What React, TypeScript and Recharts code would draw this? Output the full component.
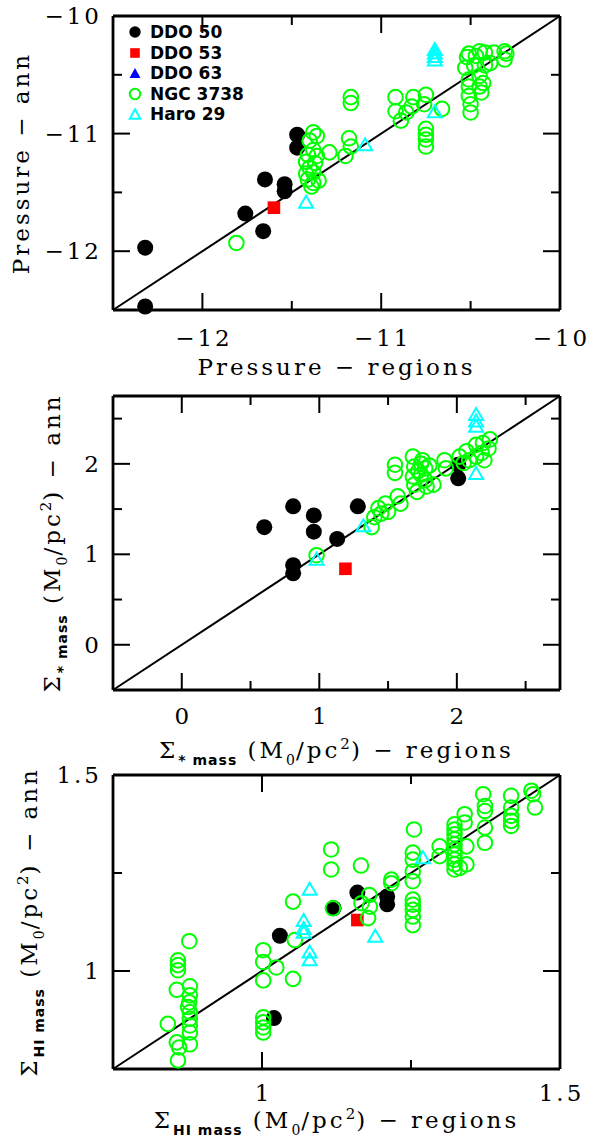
import React from "react";
import { ComposedChart, Scatter, XAxis, YAxis, Legend } from "recharts";

type Pt = [number, number];

// ---- log pressure, regions vs annuli ----
const presDdo50: Pt[] = [
  [-12.32, -11.97], [-12.32, -12.47], [-11.76, -11.68], [-11.65, -11.39],
  [-11.66, -11.83], [-11.54, -11.43], [-11.54, -11.49], [-11.47, -11.01], [-11.47, -11.12],
];
const presDdo53: Pt[] = [[-11.6, -11.63]];
const presDdo63: Pt[] = [];
const presNgc3738: Pt[] = [
  [-11.81, -11.93],
  [-11.38, -10.99], [-11.4, -11.06], [-11.38, -11.14], [-11.41, -11.18], [-11.36, -11.19],
  [-11.42, -11.24], [-11.37, -11.25], [-11.4, -11.29], [-11.38, -11.33], [-11.41, -11.39],
  [-11.38, -11.42], [-11.39, -11.45], [-11.35, -11.4], [-11.42, -11.34], [-11.36, -11.02],
  [-11.29, -11.16], [-11.18, -11.04], [-11.17, -11.11], [-11.2, -11.19], [-11.17, -10.69], [-11.17, -10.74],
  [-10.92, -10.69], [-10.92, -10.81], [-10.89, -10.89], [-10.82, -10.69], [-10.83, -10.77],
  [-10.75, -10.67], [-10.76, -10.75], [-10.66, -10.79], [-10.86, -10.82], [-10.75, -10.96],
  [-10.75, -11.01], [-10.75, -11.05], [-10.75, -11.11],
  [-10.52, -10.35], [-10.53, -10.44], [-10.51, -10.32], [-10.47, -10.34], [-10.45, -10.3],
  [-10.42, -10.31], [-10.51, -10.54], [-10.51, -10.6], [-10.45, -10.51], [-10.45, -10.6],
  [-10.44, -10.65], [-10.51, -10.68], [-10.5, -10.75], [-10.5, -10.82], [-10.39, -10.4],
  [-10.37, -10.31], [-10.31, -10.3], [-10.31, -10.37], [-10.3, -10.32], [-10.42, -10.42],
  [-10.48, -10.42], [-10.43, -10.57],
];
const presHaro29: Pt[] = [
  [-11.42, -11.58], [-11.09, -11.09], [-10.7, -10.28], [-10.7, -10.31], [-10.7, -10.34],
  [-10.7, -10.37], [-10.7, -10.81],
];

// ---- stellar mass surface density ----
const starDdo50: Pt[] = [
  [0.6, 1.3], [0.81, 1.53], [0.96, 1.43], [0.96, 1.25], [0.81, 0.88], [0.81, 0.79],
  [1.13, 1.17], [1.28, 1.53], [2.01, 1.84], [2.01, 1.99],
];
const starDdo53: Pt[] = [[1.19, 0.84]];
const starDdo63: Pt[] = [];
const starNgc3738: Pt[] = [
  [0.98, 0.99], [1.38, 1.3], [1.4, 1.41], [1.43, 1.51], [1.48, 1.56], [1.5, 1.47],
  [1.57, 1.64], [1.59, 1.56], [1.55, 1.99], [1.55, 1.9], [1.68, 2.08], [1.69, 1.97],
  [1.68, 1.86], [1.69, 1.77], [1.71, 1.69], [1.75, 2.04], [1.77, 1.95], [1.74, 1.88],
  [1.77, 1.82], [1.78, 1.75], [1.83, 1.77], [1.91, 2.04], [1.92, 1.95], [2.02, 2.08],
  [2.07, 2.14], [2.09, 2.04], [2.14, 2.21], [2.19, 2.23], [2.23, 2.17], [2.18, 2.12],
  [2.14, 2.08], [2.24, 2.27], [2.2, 2.04], [2.05, 2.01], [1.74, 2.0], [1.72, 1.92],
  [1.8, 1.98], [1.45, 1.45],
];
const starHaro29: Pt[] = [
  [0.98, 0.95], [1.32, 1.32], [2.14, 2.55], [2.14, 2.48], [2.14, 2.42], [2.14, 1.9],
];

// ---- HI mass surface density ----
const hiDdo50: Pt[] = [
  [1.03, 1.09], [1.02, 0.88], [1.16, 1.2], [1.12, 1.16], [1.21, 1.19], [1.21, 1.17],
];
const hiDdo53: Pt[] = [[1.16, 1.13]];
const hiDdo63: Pt[] = [];
const hiNgc3738: Pt[] = [
  [0.878, 1.076], [0.859, 1.027], [0.859, 1.015], [0.859, 1.002], [0.857, 0.952],
  [0.879, 0.961], [0.879, 0.938], [0.878, 0.92], [0.876, 0.908], [0.879, 0.895],
  [0.879, 0.878], [0.879, 0.861], [0.879, 0.843], [0.842, 0.865], [0.879, 0.813],
  [0.857, 0.818], [0.861, 0.805], [0.859, 0.772],
  [1.002, 1.053], [1.002, 1.023], [1.002, 0.976], [1.024, 1.009], [1.052, 0.98],
  [1.055, 1.079], [1.052, 1.177], [1.002, 0.882], [1.002, 0.869], [1.002, 0.856], [1.002, 0.843],
  [1.116, 1.31], [1.116, 1.259], [1.166, 1.269], [1.119, 1.16], [1.18, 1.194], [1.167, 1.173],
  [1.181, 1.164], [1.178, 1.135], [1.217, 1.233], [1.217, 1.224],
  [1.253, 1.302], [1.253, 1.284], [1.253, 1.254], [1.253, 1.229], [1.253, 1.182],
  [1.253, 1.169], [1.253, 1.156], [1.253, 1.139], [1.253, 1.117], [1.255, 1.361],
  [1.298, 1.318], [1.298, 1.293],
  [1.323, 1.374], [1.323, 1.361], [1.323, 1.349], [1.323, 1.336], [1.323, 1.323],
  [1.323, 1.31], [1.323, 1.297], [1.323, 1.284], [1.323, 1.272], [1.323, 1.259],
  [1.34, 1.4], [1.34, 1.379], [1.343, 1.318], [1.343, 1.272], [1.332, 1.263],
  [1.371, 1.451], [1.374, 1.421], [1.374, 1.408], [1.374, 1.366], [1.374, 1.327],
  [1.418, 1.447], [1.418, 1.417], [1.418, 1.396], [1.418, 1.383], [1.418, 1.37],
  [1.452, 1.46], [1.455, 1.451], [1.458, 1.417],
];
const hiHaro29: Pt[] = [
  [1.08, 1.21], [1.07, 1.13], [1.07, 1.11], [1.07, 1.1], [1.08, 1.05], [1.08, 1.03],
  [1.19, 1.09], [1.27, 1.29],
];

const galaxies = ["DDO 50", "DDO 53", "DDO 63", "NGC 3738", "Haro 29"];

const presDomain = [-12.5, -10];
const presTicks = [-12.5, -12, -11.5, -11, -10.5, -10];
const starDomain = [-0.5, 2.75];
const starTicks = [-0.5, 0, 0.5, 1, 1.5, 2, 2.5];
const hiDomain = [0.75, 1.5];
const hiTicks = [0.75, 1, 1.25, 1.5];

const SERIF = '"DejaVu Serif", serif';
const SANS = '"DejaVu Sans", sans-serif';

// ---- markers ----
const triPath = (cx: number, cy: number, w: number, h: number) =>
  `M${cx},${cy - h / 2}L${cx + w / 2},${cy + h / 2}L${cx - w / 2},${cy + h / 2}Z`;

const markers = [
  (p: any) => <circle cx={p.cx} cy={p.cy} r={8} fill="#000" />,
  (p: any) => <rect x={p.cx - 6.3} y={p.cy - 6.3} width={12.6} height={12.6} fill="#ff0000" />,
  (p: any) => <path d={triPath(p.cx, p.cy, 15, 13)} fill="#0000ff" />,
  (p: any) => <circle cx={p.cx} cy={p.cy} r={7.3} fill="none" stroke="#00ff00" strokeWidth={2} />,
  (p: any) => <path d={triPath(p.cx, p.cy, 14, 12)} fill="none" stroke="#00ffff" strokeWidth={2} />,
];

const legendIcons = [
  <circle cx={9} cy={9} r={5.7} fill="#000" />,
  <rect x={4.2} y={4.2} width={9.6} height={9.6} fill="#ff0000" />,
  <path d={triPath(9, 9, 11, 10)} fill="#0000ff" />,
  <circle cx={9} cy={9} r={5.2} fill="none" stroke="#00ff00" strokeWidth={2} />,
  <path d={triPath(9, 9, 10.5, 9.5)} fill="none" stroke="#00ffff" strokeWidth={2} />,
];

function LegendBox() {
  return (
    <div style={{ fontFamily: SANS, fontWeight: "bold", fontSize: 17, color: "#000" }}>
      {galaxies.map((g, i) => (
        <div key={g} style={{ display: "flex", alignItems: "center", height: 20.5, whiteSpace: "nowrap" }}>
          <svg width={18} height={18}>{legendIcons[i]}</svg>
          <span style={{ marginLeft: 6 }}>{g}</span>
        </div>
      ))}
    </div>
  );
}

// ---- axis decorations: inward ticks, labels on major ticks only ----
const fmt = (v: number) => String(v).replace("-", "\u2212");

function Tick(props: any) {
  const { x, y, payload, side, major, gap } = props;
  const v = payload.value;
  const isMajor = Math.abs(v / major - Math.round(v / major)) < 1e-6;
  const len = isMajor ? 17 : 9;
  const line = { stroke: "#000", strokeWidth: 2 };
  const txt = { fontFamily: SERIF, fontSize: 23, letterSpacing: 3, fill: "#000" };
  if (side === "bottom")
    return (
      <g>
        <line x1={x} y1={y} x2={x} y2={y - len} {...line} />
        {isMajor && (
          <text x={x + 1.5} y={y + gap} textAnchor="middle" style={txt}>{fmt(v)}</text>
        )}
      </g>
    );
  if (side === "top") return <line x1={x} y1={y} x2={x} y2={y + len} {...line} />;
  if (side === "left")
    return (
      <g>
        <line x1={x} y1={y} x2={x + len} y2={y} {...line} />
        {isMajor && (
          <text x={x - 11} y={y + 8} textAnchor="end" style={txt}>{fmt(v)}</text>
        )}
      </g>
    );
  return <line x1={x} y1={y} x2={x - len} y2={y} {...line} />;
}

type Part = { t: string; k?: "sub" | "sup" | "subSerif" };

function AxisTitle({ tx, ty, parts, vertical }: { tx: number; ty: number; parts: Part[]; vertical?: boolean }) {
  let shift = 0;
  const spans = parts.map((p, i) => {
    const target = p.k === "sub" || p.k === "subSerif" ? 7 : p.k === "sup" ? -9 : 0;
    const dy = target - shift;
    shift = target;
    const style =
      p.k === "sub"
        ? { fontFamily: SANS, fontWeight: "bold" as const, fontSize: 14, letterSpacing: 1 }
        : p.k === "subSerif"
        ? { fontSize: 14, letterSpacing: 1 }
        : p.k === "sup"
        ? { fontSize: 15, letterSpacing: 1 }
        : {};
    return (
      <tspan key={i} dy={dy} style={style}>
        {p.t}
      </tspan>
    );
  });
  return (
    <text
      x={tx}
      y={ty}
      textAnchor="middle"
      transform={vertical ? `rotate(-90 ${tx} ${ty})` : undefined}
      style={{ fontFamily: SERIF, fontSize: 23, letterSpacing: 3, fill: "#000", whiteSpace: "pre" }}
    >
      {spans}
    </text>
  );
}

const unitParts = (sym: string, tail: string): Part[] => [
  { t: "\u03a3" },
  { t: sym, k: "sub" },
  { t: " (M" },
  { t: "0", k: "subSerif" },
  { t: "/pc" },
  { t: "2", k: "sup" },
  { t: ") \u2212 " + tail },
];

const rows = (pts: Pt[]) => pts.map(([x, y]) => ({ x, y }));

interface PanelProps {
  top: number;
  height: number;
  mt: number;
  domain: number[];
  ticks: number[];
  major: number;
  series: Pt[][];
  xTitle: Part[];
  yTitle: Part[];
  xTitleY: number;
  yTitleX: number;
  labelGap: number;
  legend?: boolean;
}

function Panel(c: PanelProps) {
  const plotH = 294;
  const diag = [
    { x: c.domain[0], y: c.domain[0] },
    { x: c.domain[1], y: c.domain[1] },
  ];
  const frame = { stroke: "#000", strokeWidth: 2.8 };
  const common = {
    type: "number" as const,
    domain: c.domain,
    ticks: c.ticks,
    interval: 0 as const,
    tickSize: 0,
    tickMargin: 0,
    tickLine: false,
    axisLine: frame,
  };
  const midY = c.mt + plotH / 2;
  // axes are 1px thick so they still render; margins absorb that pixel
  return (
    <div style={{ position: "absolute", left: 0, top: c.top }}>
      <ComposedChart
        width={590}
        height={c.height}
        margin={{ top: c.mt - 1, right: 29, bottom: c.height - c.mt - plotH - 1, left: 112 }}
      >
        <XAxis
          xAxisId="b"
          dataKey="x"
          orientation="bottom"
          height={1}
          {...common}
          tick={(p: any) => <Tick {...p} side="bottom" major={c.major} gap={c.labelGap} />}
          label={<AxisTitle tx={336.5} ty={c.xTitleY} parts={c.xTitle} />}
        />
        <XAxis
          xAxisId="t"
          dataKey="x"
          orientation="top"
          height={1}
          {...common}
          tick={(p: any) => <Tick {...p} side="top" major={c.major} />}
        />
        <YAxis
          yAxisId="l"
          dataKey="y"
          orientation="left"
          width={1}
          {...common}
          tick={(p: any) => <Tick {...p} side="left" major={c.major} />}
          label={<AxisTitle tx={c.yTitleX} ty={midY} parts={c.yTitle} vertical />}
        />
        <YAxis
          yAxisId="r"
          dataKey="y"
          orientation="right"
          width={1}
          {...common}
          tick={(p: any) => <Tick {...p} side="right" major={c.major} />}
        />
        {/* one-to-one line */}
        <Scatter
          xAxisId="t"
          yAxisId="r"
          data={diag}
          line={{ stroke: "#000", strokeWidth: 2 }}
          shape={() => <g />}
          legendType="none"
          isAnimationActive={false}
        />
        {c.series.map((pts, i) => (
          <Scatter
            key={galaxies[i]}
            name={galaxies[i]}
            xAxisId="b"
            yAxisId="l"
            data={rows(pts)}
            shape={markers[i]}
            isAnimationActive={false}
          />
        ))}
        {c.legend && (
          <Legend
            layout="horizontal"
            verticalAlign="middle"
            align="center"
            wrapperStyle={{ left: 126, top: 22, width: 150, height: 105 }}
            content={() => <LegendBox />}
          />
        )}
      </ComposedChart>
    </div>
  );
}

export default function App() {
  return (
    <div
      style={{
        position: "absolute",
        left: 0,
        top: 0,
        width: 590,
        height: 1138,
        overflow: "hidden",
        background: "#fff",
      }}
    >
      <Panel
        top={0}
        height={400}
        mt={16}
        domain={presDomain}
        ticks={presTicks}
        major={1}
        series={[presDdo50, presDdo53, presDdo63, presNgc3738, presHaro29]}
        xTitle={[{ t: "Pressure \u2212 regions" }]}
        yTitle={[{ t: "Pressure \u2212 ann" }]}
        xTitleY={375}
        yTitleX={29}
        labelGap={36}
        legend
      />
      <Panel
        top={380}
        height={400}
        mt={16}
        domain={starDomain}
        ticks={starTicks}
        major={1}
        series={[starDdo50, starDdo53, starDdo63, starNgc3738, starHaro29]}
        xTitle={unitParts("* mass", "regions")}
        yTitle={unitParts("* mass", "ann")}
        xTitleY={378}
        yTitleX={60}
        labelGap={34}
      />
      <Panel
        top={760}
        height={378}
        mt={15}
        domain={hiDomain}
        ticks={hiTicks}
        major={0.5}
        series={[hiDdo50, hiDdo53, hiDdo63, hiNgc3738, hiHaro29]}
        xTitle={unitParts("HI mass", "regions")}
        yTitle={unitParts("HI mass", "ann")}
        xTitleY={368}
        yTitleX={37}
        labelGap={32}
      />
    </div>
  );
}
